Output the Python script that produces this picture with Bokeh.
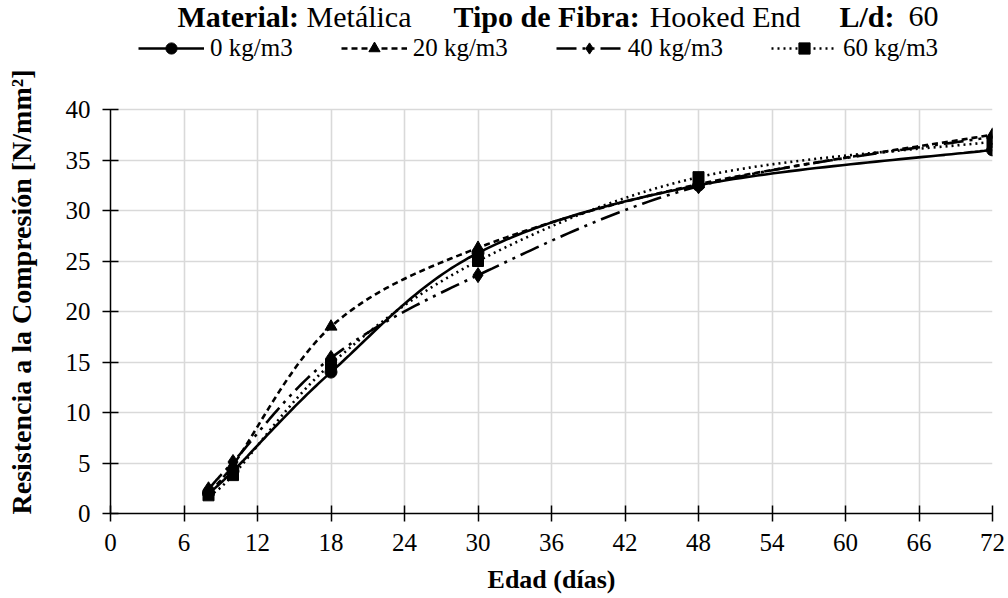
from bokeh.plotting import figure
from bokeh.models import Range1d, FixedTicker, Legend, LegendItem, Label
from bokeh.embed import file_html
from bokeh.resources import INLINE

# Compressive strength of concrete with steel hooked-end fibres (L/d 60)
dias = [8, 10, 18, 30, 48, 72]
r_0 = [2.0, 4.2, 14.0, 25.8, 32.5, 36.0]
r_20 = [2.3, 4.8, 18.5, 26.3, 32.6, 37.5]
r_40 = [2.4, 5.1, 15.4, 23.6, 32.4, 37.3]
r_60 = [1.8, 3.8, 14.8, 25.0, 33.3, 36.8]

series_names = ["0 kg/m3", "20 kg/m3", "40 kg/m3", "60 kg/m3"]
x_ticks = list(range(0, 73, 6))
y_ticks = list(range(0, 41, 5))

FONT = "Liberation Serif"
FS = "25px"

W, H = 1008, 598
LEFT, RIGHT, BOTTOM = 110, 16, 85      # borders around the plotting frame
AXIS_TOP_PX = 109                      # canvas y of the value 40
Y_MAX = 40
FRAME_H = H - BOTTOM
# the frame reaches the top of the canvas; the strip above 40 holds title + legend
Y_TOP = Y_MAX * FRAME_H / (FRAME_H - AXIS_TOP_PX)


def smooth(xs, ys, steps=40):
    """Catmull-Rom curve through the points, sampled for drawing a smooth line."""
    n = len(xs)
    px, py = [], []
    for i in range(n - 1):
        x0, y0 = xs[i], ys[i]
        x3, y3 = xs[i + 1], ys[i + 1]
        xa, ya = (xs[i - 1], ys[i - 1]) if i > 0 else (x0, y0)
        xb, yb = (xs[i + 2], ys[i + 2]) if i + 2 < n else (x3, y3)
        x1, y1 = x0 + (x3 - xa) / 6, y0 + (y3 - ya) / 6
        x2, y2 = x3 - (xb - x0) / 6, y3 - (yb - y0) / 6
        for k in range(steps + (1 if i == n - 2 else 0)):
            t = k / steps
            a, b, c, d = (1 - t) ** 3, 3 * (1 - t) ** 2 * t, 3 * (1 - t) * t ** 2, t ** 3
            px.append(a * x0 + b * x1 + c * x2 + d * x3)
            py.append(a * y0 + b * y1 + c * y2 + d * y3)
    return px, py


styles = [
    (r_0, "solid", "circle", 12),
    (r_20, "6 4", "triangle", 12),
    (r_40, "20 6 3 6 3 6", "diamond", 15),
    (r_60, "2 4", "square", 11),
]

p = figure(width=W, height=H, output_backend="svg", toolbar_location=None,
           x_range=Range1d(0, 72), y_range=Range1d(0, Y_TOP),
           min_border_left=LEFT, min_border_right=RIGHT,
           min_border_top=0, min_border_bottom=BOTTOM)
p.outline_line_color = None

for ax, ticks in ((p.xaxis[0], x_ticks), (p.yaxis[0], y_ticks)):
    ax.ticker = FixedTicker(ticks=ticks)
    ax.minor_tick_line_color = None
    ax.axis_line_color = "black"
    ax.axis_line_width = 1.5
    ax.major_tick_line_color = "black"
    ax.major_tick_line_width = 1.5
    ax.major_tick_in = 8
    ax.major_tick_out = 8
    ax.major_label_text_font = FONT
    ax.major_label_text_font_size = FS
    ax.major_label_text_color = "black"
    ax.axis_label_text_font = FONT
    ax.axis_label_text_font_style = "bold"
    ax.axis_label_text_color = "black"

ya = p.yaxis[0]
ya.bounds = (0, Y_MAX)
# the frame also covers the heading strip, so the label is centred on the whole
# frame; trailing no-break spaces push the visible words down beside 0..40
ya.axis_label = "Resistencia a la Compresión [N/mm²]" + "\u00a0" * 10
ya.axis_label_text_font_size = "28px"
ya.major_label_standoff = 12
ya.axis_label_standoff = 26

p.xaxis.axis_label = "Edad (días)"
p.xaxis.axis_label_text_font_size = "26px"
p.xaxis.major_label_standoff = 12
p.xaxis.axis_label_standoff = 11

GRID = "#d9d9d9"
p.ygrid.ticker = FixedTicker(ticks=y_ticks)
p.ygrid.grid_line_color = GRID
p.ygrid.grid_line_width = 1.6
xg = p.xgrid[0]
if hasattr(xg, "cross_bounds"):
    xg.ticker = FixedTicker(ticks=x_ticks)
    xg.cross_bounds = (0, Y_MAX)
    xg.grid_line_color = GRID
    xg.grid_line_width = 1.6
else:
    xg.visible = False
    p.segment(x0=x_ticks, y0=[0] * len(x_ticks), x1=x_ticks,
              y1=[Y_MAX] * len(x_ticks), line_color=GRID, line_width=1.6,
              level="underlay")

items = []
for name, (vals, dash, marker, size) in zip(series_names, styles):
    sx, sy = smooth(dias, vals)
    lr = p.line(sx, sy, line_color="black", line_width=2.6, line_dash=dash)
    mr = p.scatter(dias, vals, marker=marker, size=size,
                   fill_color="black", line_color="black")
    items.append(LegendItem(label=name, renderers=[lr, mr]))

# legend row under the title (lower-left corner, screen units from the frame)
LEG_H = 28
legend = Legend(items=items, orientation="horizontal",
                location=(138 - LEFT, FRAME_H - 34 - LEG_H),
                glyph_width=66, glyph_height=LEG_H, label_standoff=6, spacing=48,
                padding=0, margin=0, background_fill_alpha=0,
                border_line_color=None,
                label_text_font=FONT, label_text_font_size=FS,
                label_text_color="black")
p.add_layout(legend, "center")

# two-weight title made of separate text pieces (x: canvas px of the anchor)
title_parts = [
    ("Material:", "bold", 177, "left"),
    ("Metálica", "normal", 411, "right"),
    ("Tipo de Fibra:", "bold", 453, "left"),
    ("Hooked End", "normal", 800, "right"),
    ("L/d:", "bold", 839, "left"),
    ("60", "normal", 938, "right"),
]
for txt, style, xpos, align in title_parts:
    p.add_layout(Label(x=xpos - LEFT, y=FRAME_H - 16,
                       x_units="screen", y_units="screen",
                       text=txt, text_font=FONT, text_font_size="30px",
                       text_font_style=style, text_color="black",
                       text_baseline="middle", text_align=align))

open("out.html", "w").write(file_html(p, INLINE))
